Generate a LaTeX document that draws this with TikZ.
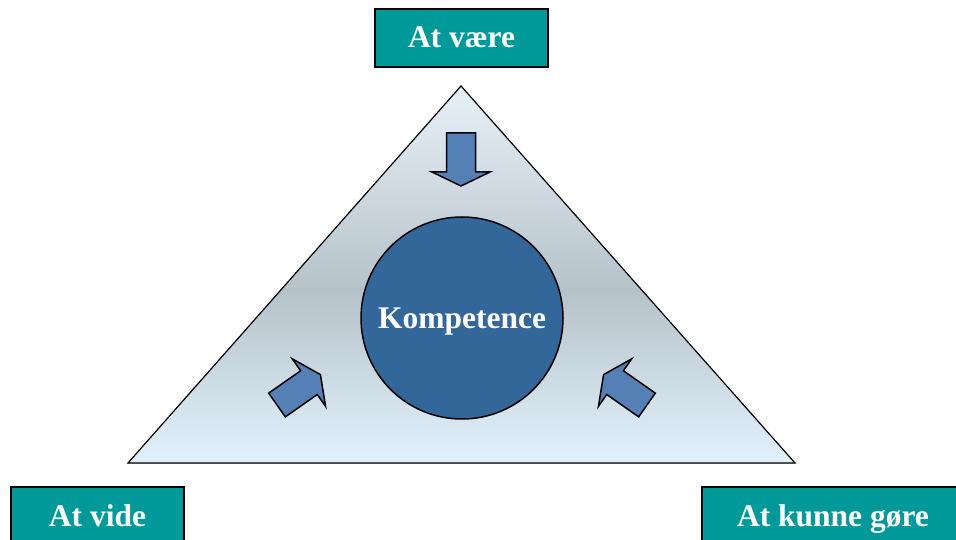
\documentclass[tikz,border=0pt]{standalone}
\usepackage{fontspec}
\setmainfont{Liberation Serif}
\definecolor{tealbox}{HTML}{009999}
\definecolor{circblue}{HTML}{336699}
\definecolor{arrblue}{HTML}{5580B6}
\definecolor{gtop}{HTML}{E8F2FA}
\definecolor{gmid}{HTML}{B6C2CA}
\definecolor{gbot}{HTML}{E3F3FD}
\tikzset{
  labelbox/.style={draw=black, line width=1.6pt, fill=tealbox, text=white,
    font=\fontsize{31.5}{36}\selectfont\bfseries, minimum width=173pt,
    minimum height=58pt, inner sep=0pt, text height=20pt, text depth=0pt},
  arrowstyle/.style={draw=black, line width=1.5pt, fill=arrblue, line join=miter},
  blkarrow/.pic={\draw[arrowstyle] (0,-14.5)--(39,-14.5)--(39,-29)--(53,0)--(39,29)--(39,14.5)--(0,14.5)--cycle;}
}
\begin{document}
\begin{tikzpicture}[x=1pt,y=1pt]
\useasboundingbox (0,0) rectangle (956,539);
% triangle with gradient
\coordinate (apex) at (461,453);
\coordinate (bl) at (128,76);
\coordinate (br) at (795,76);
\begin{scope}
  \clip (apex) -- (bl) -- (br) -- cycle;
  \fill[bottom color=gbot, top color=gmid] (120,70) rectangle (800,250);
  \fill[bottom color=gmid, top color=gtop] (120,249.5) rectangle (800,460);
\end{scope}
\draw[line width=1.2pt, line join=miter] (apex) -- (bl) -- (br) -- cycle;
% circle
\node[circle, draw=black, line width=1.5pt, fill=circblue, minimum size=202pt,
  inner sep=0pt, text=white, text height=20pt, text depth=0pt,
  font=\fontsize{31.5}{36}\selectfont\bfseries] (komp) at (462,221) {Kompetence};
% arrows
\pic at (461,406) [rotate=-90] {blkarrow};
\pic at (277,134) [rotate=35] {blkarrow};
\pic at (647,134) [rotate=145] {blkarrow};
% boxes
\node[labelbox] (vaere) at (461.5,501) {At være};
\node[labelbox] (vide) at (97.5,23) {At vide};
\node[labelbox, minimum width=262pt] (gore) at (833,23) {At kunne gøre};
\end{tikzpicture}
\end{document}
